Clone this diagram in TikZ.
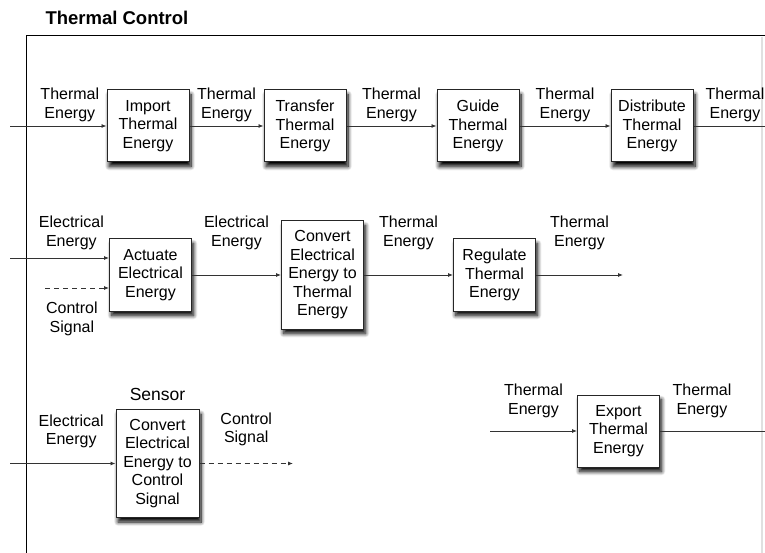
\documentclass[tikz,border=0pt]{standalone}
\usepackage{fontspec}
\setmainfont{Liberation Sans}
\usetikzlibrary{positioning, arrows.meta, shadows.blur}

\begin{document}
\begin{tikzpicture}
			[x=1pt, y=-1pt,
			fn/.style={rectangle, draw=black!85, line width=1pt, fill=white, align=center,
				minimum width=82pt, minimum height=72pt, inner sep=2pt,
				blur shadow={shadow xshift=2pt, shadow yshift=-4.5pt, shadow blur radius=4pt, shadow blur steps=10, shadow opacity=100}},
			tall/.style={fn, minimum height=108pt},
			lbl/.style={align=center, inner sep=1pt},
			flow/.style={draw=black!80, line width=0.8pt, -{Latex[length=5pt, width=4pt]}},
			plain/.style={draw=black!80, line width=0.8pt},
			signal/.style={flow, dash pattern=on 5pt off 4pt},
			every node/.style={font=\fontsize{16}{18.5}\selectfont}]
			\useasboundingbox (0,0) rectangle (765,553);
			\node[anchor=base west, font=\fontsize{18.5}{20}\selectfont\bfseries] (title) at (42,25) {Thermal Control};
			\draw[line width=1pt] (26,553) -- (26,36) -- (765,36);
			\draw[black!12, line width=2pt] (762,37) -- (762,553);
			% first row
			\node[fn] (f1) at (148,126) {Import\\Thermal\\Energy};
			\node[fn] (f2) [right = 74pt of f1] {Transfer\\Thermal\\Energy};
			\node[fn] (f3) [right = 90pt of f2] {Guide\\Thermal\\Energy};
			\node[fn] (f4) [right = 91pt of f3] {Distribute\\Thermal\\Energy};
			\coordinate (in1) at (10,126);
			\coordinate (out1) at (765,126);
			\draw[flow] (in1) -- node[lbl, above=3pt, pos=.62] (l1) {Thermal\\Energy} (f1);
			\draw[flow] (f1) -- node[lbl, above=3pt] (l2) {Thermal\\Energy} (f2);
			\draw[flow] (f2) -- node[lbl, above=3pt] (l3) {Thermal\\Energy} (f3);
			\draw[flow] (f3) -- node[lbl, above=3pt] (l4) {Thermal\\Energy} (f4);
			\draw[plain] (f4) -- node[lbl, above=3pt, pos=.58] (l5) {Thermal\\Energy} (out1);
			% second row
			\node[fn] (f5) at (150.5,275) {Actuate\\Electrical\\Energy};
			\node[tall] (f6) [right = 89pt of f5] {Convert\\Electrical\\Energy to\\Thermal\\Energy};
			\node[fn] (f7) [right = 89pt of f6] {Regulate\\Thermal\\Energy};
			\coordinate (in2) at (10,258);
			\coordinate (ctl) at (45,288);
			\coordinate (out2) at (623,275);
			\draw[flow] (in2) -- node[lbl, above=7pt, pos=.62] (l6) {Electrical\\Energy} (in2 -| f5.west);
			\draw[signal] (ctl) -- node[lbl, below=13pt, pos=.42] (l7) {Control\\Signal} (ctl -| f5.west);
			\draw[flow] (f5) -- node[lbl, above=24pt] (l8) {Electrical\\Energy} (f6);
			\draw[flow] (f6) -- node[lbl, above=24pt] (l9) {Thermal\\Energy} (f7);
			\draw[flow] (f7) -- node[lbl, above=24pt] (l10) {Thermal\\Energy} (out2);
			% third row
			\node[tall, minimum width=83pt] (f8) at (157.5,463.5) {Convert\\Electrical\\Energy to\\Control\\Signal};
			\node[font=\fontsize{17.5}{20}\selectfont] (sen) [above = 5pt of f8] {Sensor};
			\node[fn] (f9) at (618.5,431) {Export\\Thermal\\Energy};
			\coordinate (in3) at (10,463.5);
			\coordinate (out3) at (293,463.5);
			\coordinate (in4) at (490,431);
			\coordinate (out4) at (765,431);
			\draw[flow] (in3) -- node[lbl, above=14pt, pos=.58] (l11) {Electrical\\Energy} (f8);
			\draw[signal] (f8) -- node[lbl, above=16pt] (l12) {Control\\Signal} (out3);
			\draw[flow] (in4) -- node[lbl, above=12pt] (l13) {Thermal\\Energy} (f9);
			\draw[plain] (f9) -- node[lbl, above=12pt, pos=.4] (l14) {Thermal\\Energy} (out4);
		\end{tikzpicture}
\end{document}
